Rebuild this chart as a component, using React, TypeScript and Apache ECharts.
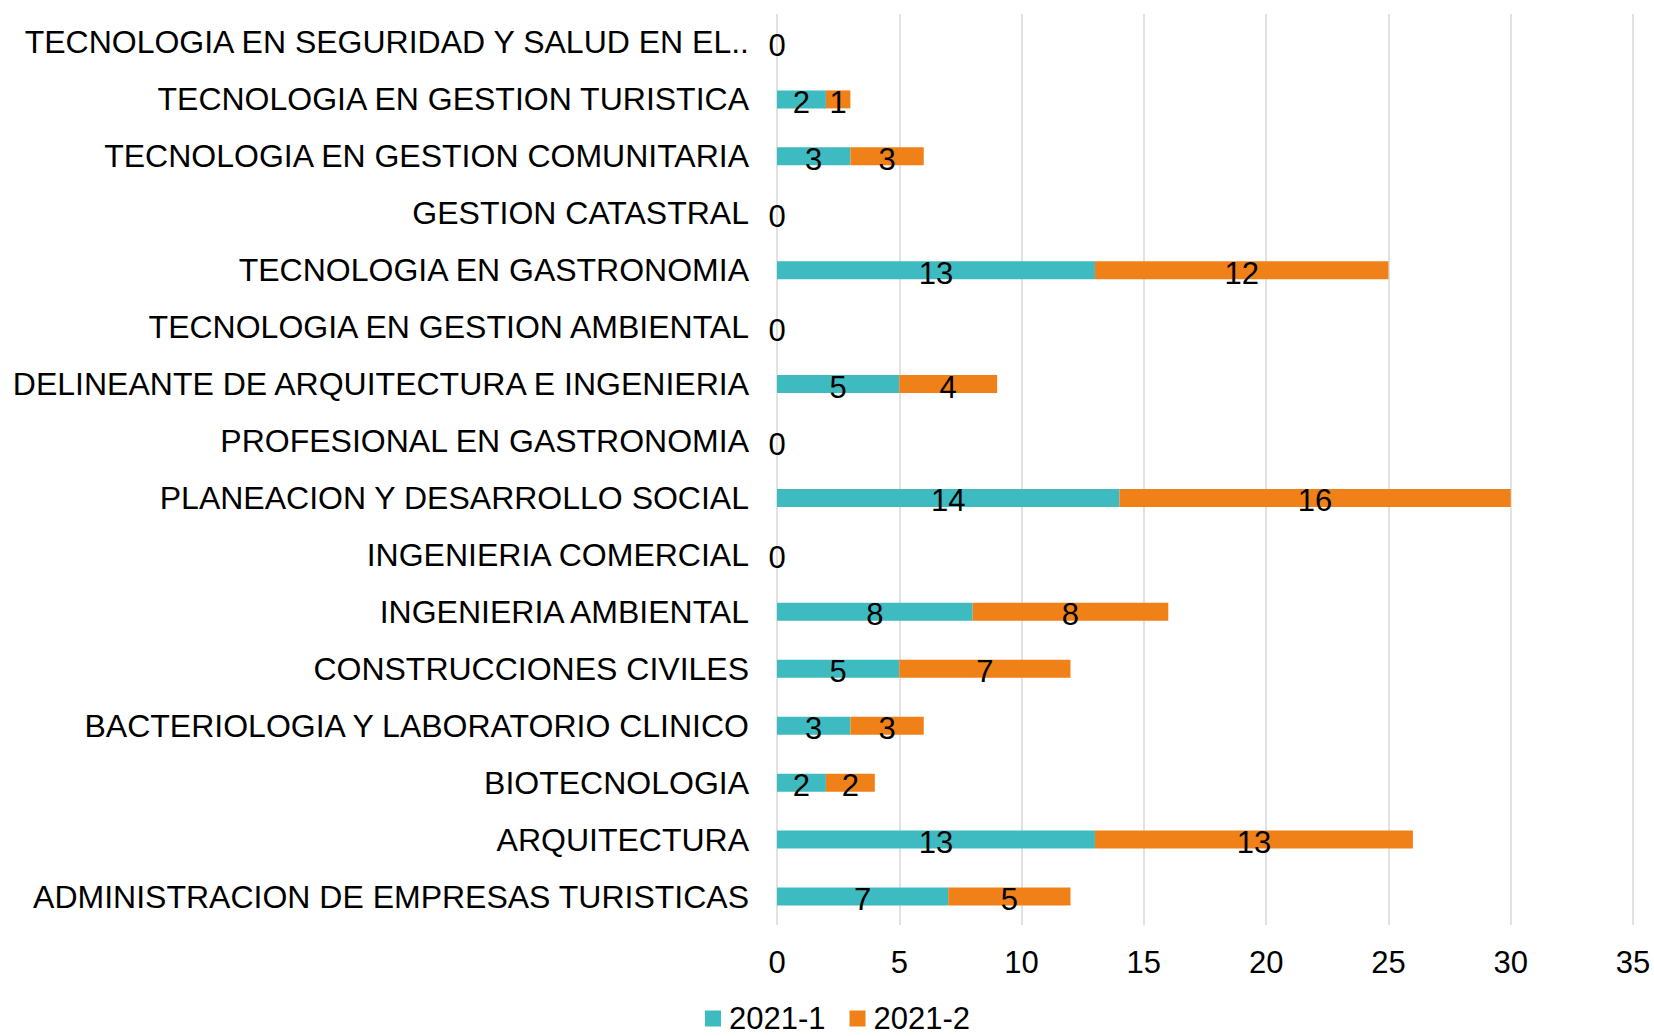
import React, { useEffect, useRef } from "react";
import * as echarts from "echarts";

const categories = [
  "ADMINISTRACION DE EMPRESAS TURISTICAS",
  "ARQUITECTURA",
  "BIOTECNOLOGIA",
  "BACTERIOLOGIA Y LABORATORIO CLINICO",
  "CONSTRUCCIONES CIVILES",
  "INGENIERIA AMBIENTAL",
  "INGENIERIA COMERCIAL",
  "PLANEACION Y DESARROLLO SOCIAL",
  "PROFESIONAL EN GASTRONOMIA",
  "DELINEANTE DE ARQUITECTURA E INGENIERIA",
  "TECNOLOGIA EN GESTION AMBIENTAL",
  "TECNOLOGIA EN GASTRONOMIA",
  "GESTION CATASTRAL",
  "TECNOLOGIA EN GESTION COMUNITARIA",
  "TECNOLOGIA EN GESTION TURISTICA",
  "TECNOLOGIA EN SEGURIDAD Y SALUD EN EL..",
];
const series1Name = "2021-1";
const series2Name = "2021-2";
const values2021_1 = [7, 13, 2, 3, 5, 8, 0, 14, 0, 5, 0, 13, 0, 3, 2, 0];
const values2021_2 = [5, 13, 2, 3, 7, 8, 0, 16, 0, 4, 0, 12, 0, 3, 1, 0];
const xTicks = [0, 5, 10, 15, 20, 25, 30, 35];

const FONT = "'Liberation Sans', Arial, sans-serif";

export default function App() {
  const ref = useRef<HTMLDivElement>(null);
  useEffect(() => {
    document.body.style.margin = "0";
    const chart = echarts.init(ref.current!, undefined, { renderer: "svg" });
    chart.setOption({
      animation: false,
      textStyle: { fontFamily: FONT },
      grid: { left: 777, right: 21, top: 14, bottom: 111, containLabel: false },
      xAxis: {
        type: "value",
        min: xTicks[0],
        max: xTicks[xTicks.length - 1],
        interval: 5,
        axisLine: { show: false },
        axisTick: { show: false },
        axisLabel: { fontSize: 31, color: "#000", margin: 22, fontFamily: FONT },
        splitLine: { lineStyle: { color: "#d9d9d9", width: 1.5 } },
      },
      yAxis: {
        type: "category",
        data: categories,
        axisLine: { show: false },
        axisTick: { show: false },
        axisLabel: { fontSize: 32, color: "#000", margin: 28, fontFamily: FONT },
      },
      legend: {
        top: 1003,
        left: 705,
        padding: 0,
        itemWidth: 16,
        itemHeight: 16,
        itemGap: 24,
        icon: "rect",
        textStyle: { fontSize: 31, color: "#000", fontFamily: FONT, padding: [0, 0, 0, 3] },
        data: [series1Name, series2Name],
      },
      series: [
        {
          name: series1Name,
          type: "bar",
          stack: "total",
          barWidth: 18,
          data: values2021_1,
          itemStyle: { color: "#3EBBC0" },
          label: {
            show: true,
            position: "inside",
            color: "#000",
            fontSize: 31,
            fontFamily: FONT,
            offset: [0, 3],
          },
        },
        {
          name: series2Name,
          type: "bar",
          stack: "total",
          barWidth: 18,
          data: values2021_2,
          itemStyle: { color: "#F08118" },
          label: {
            show: true,
            position: "inside",
            color: "#000",
            fontSize: 31,
            fontFamily: FONT,
            offset: [0, 3],
            formatter: (p: any) => (p.value === 0 ? "" : String(p.value)),
          },
        },
      ],
    });
    return () => chart.dispose();
  }, []);
  return <div ref={ref} style={{ width: 1654, height: 1036 }} />;
}
